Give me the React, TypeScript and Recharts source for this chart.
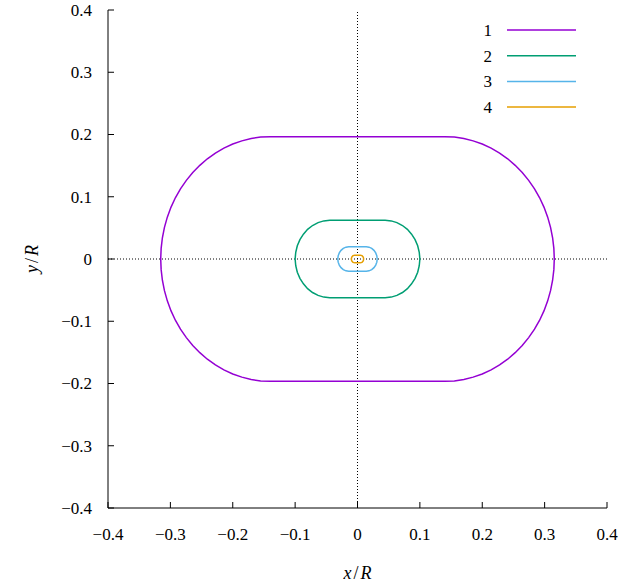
import React from 'react';
import { LineChart, Line, XAxis, YAxis, ReferenceLine, Legend } from 'recharts';

// Curve 1 (outer stadium), traced counter-clockwise from the right-most point
const curve1X = [
  0.3155, 0.3148, 0.3128, 0.3095, 0.3049, 0.2991, 0.292, 0.2838, 0.2744, 0.2641, 0.2528, 0.2407, 0.2278, 0.2142, 0.2, 0.1854, 0.1705, 0.1553, 0.14,
  -0.14, -0.1553, -0.1705, -0.1854, -0.2, -0.2142, -0.2278, -0.2407, -0.2528, -0.2641, -0.2744, -0.2838, -0.292, -0.2991, -0.3049, -0.3095, -0.3128, -0.3148, -0.3155,
  -0.3148, -0.3128, -0.3095, -0.3049, -0.2991, -0.292, -0.2838, -0.2744, -0.2641, -0.2528, -0.2407, -0.2278, -0.2142, -0.2, -0.1854, -0.1705, -0.1553, -0.14,
  0.14, 0.1553, 0.1705, 0.1854, 0.2, 0.2142, 0.2278, 0.2407, 0.2528, 0.2641, 0.2744, 0.2838, 0.292, 0.2991, 0.3049, 0.3095, 0.3128, 0.3148, 0.3155,
];
const curve1Y = [
  0, 0.0171, 0.0341, 0.0509, 0.0672, 0.083, 0.0983, 0.1127, 0.1263, 0.139, 0.1505, 0.161, 0.1702, 0.1781, 0.1847, 0.1898, 0.1935, 0.1958, 0.1965,
  0.1965, 0.1958, 0.1935, 0.1898, 0.1847, 0.1781, 0.1702, 0.161, 0.1505, 0.139, 0.1263, 0.1127, 0.0983, 0.083, 0.0672, 0.0509, 0.0341, 0.0171, 0,
  -0.0171, -0.0341, -0.0509, -0.0672, -0.083, -0.0983, -0.1127, -0.1263, -0.139, -0.1505, -0.161, -0.1702, -0.1781, -0.1847, -0.1898, -0.1935, -0.1958, -0.1965,
  -0.1965, -0.1958, -0.1935, -0.1898, -0.1847, -0.1781, -0.1702, -0.161, -0.1505, -0.139, -0.1263, -0.1127, -0.0983, -0.083, -0.0672, -0.0509, -0.0341, -0.0171, 0,
];

// Curve 2
const curve2X = [
  0.1, 0.099, 0.0965, 0.0923, 0.0867, 0.08, 0.0721, 0.0632, 0.0541, 0.0443,
  -0.0443, -0.0541, -0.0632, -0.0721, -0.08, -0.0867, -0.0923, -0.0965, -0.099, -0.1,
  -0.099, -0.0965, -0.0923, -0.0867, -0.08, -0.0721, -0.0632, -0.0541, -0.0443,
  0.0443, 0.0541, 0.0632, 0.0721, 0.08, 0.0867, 0.0923, 0.0965, 0.099, 0.1,
];
const curve2Y = [
  0, 0.0108, 0.0212, 0.0311, 0.0399, 0.0476, 0.0538, 0.0584, 0.0612, 0.0622,
  0.0622, 0.0612, 0.0584, 0.0538, 0.0476, 0.0399, 0.0311, 0.0212, 0.0108, 0,
  -0.0108, -0.0212, -0.0311, -0.0399, -0.0476, -0.0538, -0.0584, -0.0612, -0.0622,
  -0.0622, -0.0612, -0.0584, -0.0538, -0.0476, -0.0399, -0.0311, -0.0212, -0.0108, 0,
];

// Curve 3
const curve3X = [
  0.0316, 0.031, 0.0292, 0.0264, 0.0228, 0.0185, 0.014,
  -0.014, -0.0185, -0.0228, -0.0264, -0.0292, -0.031, -0.0316,
  -0.031, -0.0292, -0.0264, -0.0228, -0.0185, -0.014,
  0.014, 0.0185, 0.0228, 0.0264, 0.0292, 0.031, 0.0316,
];
const curve3Y = [
  0, 0.0051, 0.0098, 0.0139, 0.017, 0.019, 0.0197,
  0.0197, 0.019, 0.017, 0.0139, 0.0098, 0.0051, 0,
  -0.0051, -0.0098, -0.0139, -0.017, -0.019, -0.0197,
  -0.0197, -0.019, -0.017, -0.0139, -0.0098, -0.0051, 0,
];

// Curve 4 (innermost)
const curve4X = [
  0.01, 0.0092, 0.0072, 0.0044,
  -0.0044, -0.0072, -0.0092, -0.01,
  -0.0092, -0.0072, -0.0044,
  0.0044, 0.0072, 0.0092, 0.01,
];
const curve4Y = [
  0, 0.0031, 0.0054, 0.0062,
  0.0062, 0.0054, 0.0031, 0,
  -0.0031, -0.0054, -0.0062,
  -0.0062, -0.0054, -0.0031, 0,
];

const tickValues = [-0.4, -0.3, -0.2, -0.1, 0, 0.1, 0.2, 0.3, 0.4];
const tickLabels = ['\u22120.4', '\u22120.3', '\u22120.2', '\u22120.1', '0', '0.1', '0.2', '0.3', '0.4'];
const seriesNames = ['1', '2', '3', '4'];
const seriesColors = ['#9400d3', '#009e73', '#56b4e9', '#e69f00'];

const zip = (xs: number[], ys: number[]) => xs.map((x, i) => ({ x, y: ys[i] }));
const seriesData = [zip(curve1X, curve1Y), zip(curve2X, curve2Y), zip(curve3X, curve3Y), zip(curve4X, curve4Y)];

const FONT = 'Liberation Serif, Times New Roman, Times, DejaVu Serif, serif';
const FS = 17;
const TICK = 6;
const textStyle = { fontFamily: FONT, fontSize: FS } as React.CSSProperties;

const fmt = (v: number) => {
  const i = tickValues.findIndex((t) => Math.abs(t - v) < 1e-9);
  return i >= 0 ? tickLabels[i] : String(v);
};

const BottomTick = (p: any) => (
  <g>
    <line x1={p.x} y1={p.y} x2={p.x} y2={p.y - TICK} stroke="#000" strokeWidth={1} />
    <text x={p.x} y={p.y + 26} textAnchor="middle" dy="0.35em" style={textStyle} fill="#000">
      {fmt(p.payload.value)}
    </text>
  </g>
);
const TopTick = (p: any) => (
  <line x1={p.x} y1={p.y} x2={p.x} y2={p.y + TICK} stroke="#000" strokeWidth={1} />
);
const LeftTick = (p: any) => (
  <g>
    <line x1={p.x} y1={p.y} x2={p.x + TICK} y2={p.y} stroke="#000" strokeWidth={1} />
    <text x={p.x - 16} y={p.y} textAnchor="end" dy="0.35em" style={textStyle} fill="#000">
      {fmt(p.payload.value)}
    </text>
  </g>
);
const RightTick = (p: any) => (
  <line x1={p.x} y1={p.y} x2={p.x - TICK} y2={p.y} stroke="#000" strokeWidth={1} />
);

const XLabel = (props: any) => {
  const vb = props.viewBox || { x: 108, y: 508, width: 499 };
  return (
    <text x={vb.x + vb.width / 2} y={573} textAnchor="middle" dy="0.35em" style={{ ...textStyle, fontSize: 18 }} fill="#000">
      <tspan fontStyle="italic">x</tspan>
      <tspan dx={2}>/</tspan>
      <tspan dx={2} fontStyle="italic">R</tspan>
    </text>
  );
};
const YLabel = (props: any) => {
  const vb = props.viewBox || { x: 0, y: 10, height: 498 };
  const cy = vb.y + vb.height / 2;
  return (
    <text x={32} y={cy} textAnchor="middle" dy="0.35em" transform={`rotate(-90 32 ${cy})`} style={{ ...textStyle, fontSize: 18 }} fill="#000">
      <tspan fontStyle="italic">y</tspan>
      <tspan dx={2}>/</tspan>
      <tspan dx={2} fontStyle="italic">R</tspan>
    </text>
  );
};

const LegendContent = (props: any) => {
  const items = props.payload && props.payload.length ? props.payload : seriesNames.map((n, i) => ({ value: n, color: seriesColors[i] }));
  return (
    <svg width={634} height={130} style={{ display: 'block' }}>
      {items.map((it: any, i: number) => {
        const y = 30 + i * 25.7;
        return (
          <g key={i}>
            <text x={492} y={y} textAnchor="end" dy="0.35em" style={textStyle} fill="#000">
              {it.value}
            </text>
            <line x1={507} x2={576} y1={y} y2={y} stroke={it.color} strokeWidth={1.5} />
          </g>
        );
      })}
    </svg>
  );
};

export default function App() {
  return (
    <div style={{ position: 'absolute', left: 0, top: 0, width: 634, height: 582, background: '#fff' }}>
      <LineChart width={634} height={582} margin={{ top: 10, right: 27, bottom: 0, left: 0 }}>
        <XAxis
          xAxisId="b"
          type="number"
          dataKey="x"
          domain={[-0.4, 0.4]}
          ticks={tickValues}
          interval={0}
          allowDataOverflow
          orientation="bottom"
          height={74}
          tickSize={0}
          tickMargin={0}
          tickLine={false}
          axisLine={{ stroke: '#000', strokeWidth: 1 }}
          tick={BottomTick}
          label={XLabel}
        />
        <XAxis
          xAxisId="t"
          type="number"
          dataKey="x"
          domain={[-0.4, 0.4]}
          ticks={tickValues}
          interval={0}
          allowDataOverflow
          orientation="top"
          height={0}
          tickSize={0}
          tickMargin={0}
          tickLine={false}
          axisLine={{ stroke: '#000', strokeWidth: 1 }}
          tick={TopTick}
        />
        <YAxis
          yAxisId="l"
          type="number"
          dataKey="y"
          domain={[-0.4, 0.4]}
          ticks={tickValues}
          interval={0}
          allowDataOverflow
          orientation="left"
          width={108}
          tickSize={0}
          tickMargin={0}
          tickLine={false}
          axisLine={{ stroke: '#000', strokeWidth: 1 }}
          tick={LeftTick}
          label={YLabel}
        />
        <YAxis
          yAxisId="r"
          type="number"
          dataKey="y"
          domain={[-0.4, 0.4]}
          ticks={tickValues}
          interval={0}
          allowDataOverflow
          orientation="right"
          width={0}
          tickSize={0}
          tickMargin={0}
          tickLine={false}
          axisLine={{ stroke: '#000', strokeWidth: 1 }}
          tick={RightTick}
        />
        <ReferenceLine xAxisId="b" yAxisId="l" x={0} stroke="#000" strokeWidth={1} strokeDasharray="1 2" />
        <ReferenceLine xAxisId="b" yAxisId="l" y={0} stroke="#000" strokeWidth={1} strokeDasharray="1 2" />
        {seriesData.map((d, i) => (
          <Line
            key={seriesNames[i]}
            xAxisId="b"
            yAxisId="l"
            data={d}
            dataKey="y"
            name={seriesNames[i]}
            type="linear"
            stroke={seriesColors[i]}
            strokeWidth={1.5}
            dot={false}
            activeDot={false}
            isAnimationActive={false}
          />
        ))}
        <Legend
          content={LegendContent}
          layout="horizontal"
          verticalAlign="middle"
          align="center"
          wrapperStyle={{ top: 0, left: 0, width: 634, height: 130, pointerEvents: 'none' }}
        />
      </LineChart>
    </div>
  );
}
